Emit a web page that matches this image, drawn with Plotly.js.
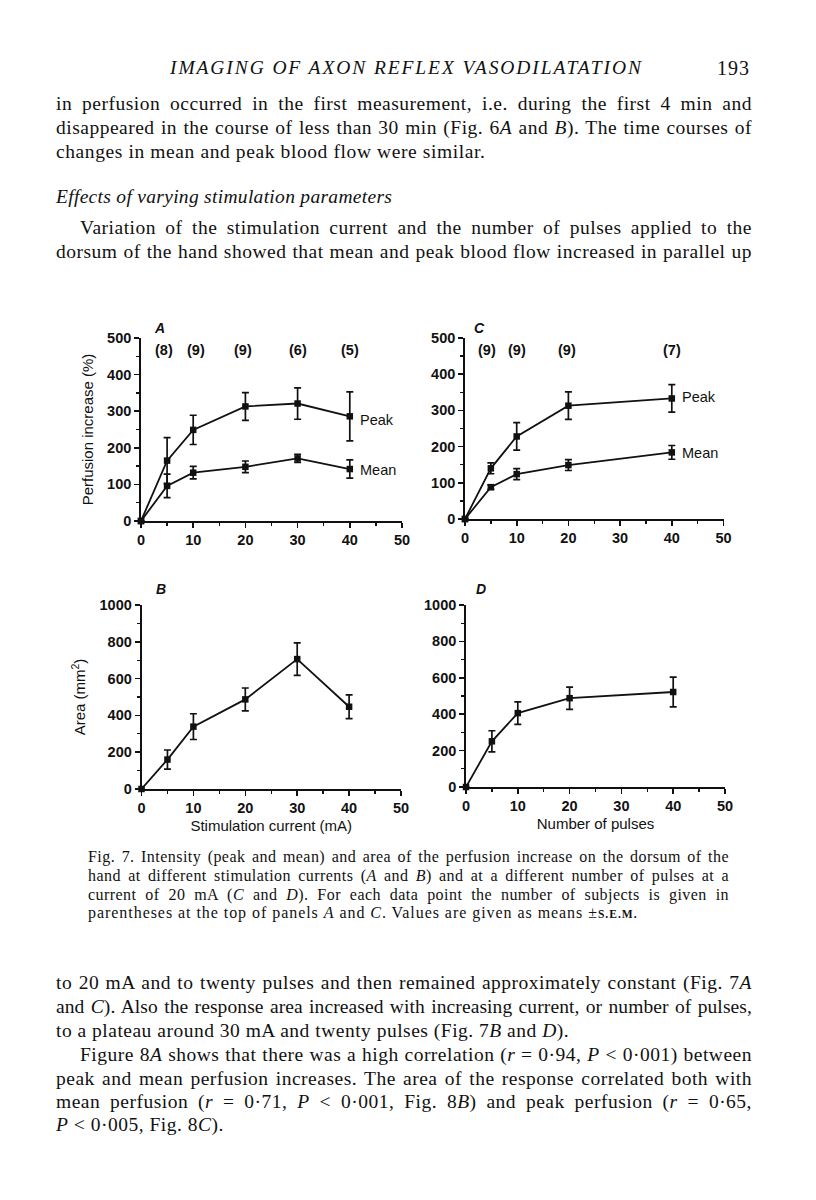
<!DOCTYPE html>
<html>
<head>
<meta charset="utf-8">
<script src="https://cdn.plot.ly/plotly-3.0.1.min.js"></script>
<style>
  html, body { margin: 0; padding: 0; background: #fff; }
  #page { position: relative; width: 816px; height: 1200px; overflow: hidden; background: #fff; }
  #chart { position: absolute; left: 0; top: 0; width: 816px; height: 1200px; }
  .ln { position: absolute; white-space: nowrap; font-family: "Liberation Serif", "DejaVu Serif", serif;
        color: #111; line-height: 24px; height: 24px; }
  .body { font-size: 19.5px; letter-spacing: 0.5px; left: 56px; width: 696px; text-align: justify; text-align-last: justify; }
  .ind { left: 80px; width: 672px; }
  .cap { font-size: 16px; letter-spacing: 0.45px; left: 88px; width: 641px; text-align: justify; text-align-last: justify; line-height: 19px; height: 19px; }
  .left { text-align: left; text-align-last: left; }
  i { font-style: italic; }
  .sc { font-size: 0.72em; letter-spacing: 1px; font-weight: bold; }
</style>
</head>
<body>
<div id="page">
  <div id="chart"></div>
  <div class="ln" style="left:170px; top:56px; font-size:19.5px; font-style:italic; letter-spacing:1.9px;">IMAGING OF AXON REFLEX VASODILATATION</div>
  <div class="ln" style="left:717px; top:56px; font-size:20px; letter-spacing:1px;">193</div>

  <div class="ln body" style="top:92px;">in perfusion occurred in the first measurement, i.e. during the first 4 min and</div>
  <div class="ln body" style="top:116px;">disappeared in the course of less than 30 min (Fig. 6<i>A</i> and <i>B</i>). The time courses of</div>
  <div class="ln body left" style="top:140px; letter-spacing:0.6px;">changes in mean and peak blood flow were similar.</div>

  <div class="ln body left" style="top:185px; font-style:italic; letter-spacing:0.3px;">Effects of varying stimulation parameters</div>
  <div class="ln body ind" style="top:216px;">Variation of the stimulation current and the number of pulses applied to the</div>
  <div class="ln body" style="top:240px;">dorsum of the hand showed that mean and peak blood flow increased in parallel up</div>

  <div class="ln cap" style="top:847px;">Fig. 7. Intensity (peak and mean) and area of the perfusion increase on the dorsum of the</div>
  <div class="ln cap" style="top:866px;">hand at different stimulation currents (<i>A</i> and <i>B</i>) and at a different number of pulses at a</div>
  <div class="ln cap" style="top:885px;">current of 20 mA (<i>C</i> and <i>D</i>). For each data point the number of subjects is given in</div>
  <div class="ln cap left" style="top:903px; letter-spacing:0.95px;">parentheses at the top of panels <i>A</i> and <i>C</i>. Values are given as means ±<span class="sc">S.E.M.</span></div>

  <div class="ln body" style="top:971px;">to 20 mA and to twenty pulses and then remained approximately constant (Fig. 7<i>A</i></div>
  <div class="ln body" style="top:995px; letter-spacing:0.1px;">and <i>C</i>). Also the response area increased with increasing current, or number of pulses,</div>
  <div class="ln body left" style="top:1019px;">to a plateau around 30 mA and twenty pulses (Fig. 7<i>B</i> and <i>D</i>).</div>
  <div class="ln body ind" style="top:1043px;">Figure 8<i>A</i> shows that there was a high correlation (<i>r</i> = 0·94, <i>P</i> &lt; 0·001) between</div>
  <div class="ln body" style="top:1067px;">peak and mean perfusion increases. The area of the response correlated both with</div>
  <div class="ln body" style="top:1090px;">mean perfusion (<i>r</i> = 0·71, <i>P</i> &lt; 0·001, Fig. 8<i>B</i>) and peak perfusion (<i>r</i> = 0·65,</div>
  <div class="ln body left" style="top:1113px;"><i>P</i> &lt; 0·005, Fig. 8<i>C</i>).</div>
</div>
<script>
// ---- data ----
const currentX = [0, 5, 10, 20, 30, 40];
const peakA    = [0, 165, 249, 313, 321, 286];
const peakAErr = [0, 63, 40, 38, 43, 67];
const meanA    = [0, 96, 132, 148, 171, 142];
const meanAErr = [0, 32, 17, 16, 11, 25];
const areaB    = [0, 160, 339, 487, 706, 447];
const areaBErr = [0, 52, 70, 62, 88, 65];

const pulsesX  = [0, 5, 10, 20, 40];
const peakC    = [0, 140, 228, 313, 333];
const peakCErr = [0, 15, 38, 38, 38];
const meanC    = [0, 88, 124, 149, 184];
const meanCErr = [0, 6, 15, 15, 19];
const areaD    = [0, 251, 406, 488, 522];
const areaDErr = [0, 58, 62, 61, 82];

const nA  = ['(8)', '(9)', '(9)', '(6)', '(5)'];
const nAx = [4.5, 10.5, 19.5, 30, 40];
const nC  = ['(9)', '(9)', '(9)', '(7)'];
const nCx = [4.3, 10, 19.7, 40];

// ---- styling ----
const SANS = 'Liberation Sans, Arial, Helvetica, sans-serif';
const W = 816, H = 1200;
function px(x) { return x / W; }
function py(y) { return 1 - y / H; }

function series(x, y, err, xa, ya, name) {
  return {
    type: 'scatter', mode: 'lines+markers', name: name, x: x, y: y,
    xaxis: xa, yaxis: ya, cliponaxis: false, showlegend: false,
    line: { color: '#111', width: 1.8 },
    marker: { symbol: 'square', size: 6.5, color: '#111' },
    error_y: { type: 'data', array: err, visible: true, color: '#111', thickness: 1.7, width: 3.5 }
  };
}

const traces = [
  series(currentX, peakA, peakAErr, 'x', 'y', 'Peak'),
  series(currentX, meanA, meanAErr, 'x', 'y', 'Mean'),
  series(pulsesX, peakC, peakCErr, 'x2', 'y2', 'Peak'),
  series(pulsesX, meanC, meanCErr, 'x2', 'y2', 'Mean'),
  series(currentX, areaB, areaBErr, 'x3', 'y3', 'Area'),
  series(pulsesX, areaD, areaDErr, 'x4', 'y4', 'Area')
];

const tickFont = { family: SANS, size: 14.5, color: '#111', weight: 'bold' };
const titleFont = { family: SANS, size: 15, color: '#111' };

function xax(dom, anchor, title) {
  const a = {
    domain: dom, anchor: anchor, range: [0, 50], dtick: 10, tick0: 0,
    showline: true, linecolor: '#111', linewidth: 1.8, showgrid: false, zeroline: false,
    ticks: 'outside', ticklen: 5, tickwidth: 1.6, tickcolor: '#111',
    minor: { dtick: 5, ticks: 'outside', ticklen: 3, tickwidth: 1.4, tickcolor: '#111', showgrid: false },
    tickfont: tickFont, fixedrange: true
  };
  if (title) a.title = { text: title, font: titleFont, standoff: 5 };
  return a;
}
function yax(dom, anchor, range, dtick, minor, title) {
  const a = {
    domain: dom, anchor: anchor, range: range, dtick: dtick, tick0: 0,
    showline: true, linecolor: '#111', linewidth: 1.8, showgrid: false, zeroline: false,
    ticks: 'outside', ticklen: 5, tickwidth: 1.6, tickcolor: '#111',
    minor: { dtick: minor, ticks: 'outside', ticklen: 3, tickwidth: 1.4, tickcolor: '#111', showgrid: false },
    tickfont: tickFont, fixedrange: true
  };
  if (title) a.title = { text: title, font: titleFont, standoff: 10 };
  return a;
}

const annotations = [];
function txt(x, y, xr, yr, t, opts) {
  annotations.push(Object.assign({ x: x, y: y, xref: xr, yref: yr, text: t, showarrow: false,
    font: { family: SANS, size: 14.5, color: '#111', weight: 'bold' } }, opts || {}));
}
nA.forEach((t, i) => txt(nAx[i], 467, 'x', 'y', t));
nC.forEach((t, i) => txt(nCx[i], 467, 'x2', 'y2', t));
const lblFont = { family: SANS, size: 14.5, color: '#111' };
txt(41.6, peakA[5] - 10, 'x', 'y', 'Peak', { xanchor: 'left', font: lblFont });
txt(41.6, meanA[5] - 3, 'x', 'y', 'Mean', { xanchor: 'left', font: lblFont });
txt(41.6, peakC[4] + 5, 'x2', 'y2', 'Peak', { xanchor: 'left', font: lblFont });
txt(41.6, meanC[4] - 3, 'x2', 'y2', 'Mean', { xanchor: 'left', font: lblFont });
const letterFont = { family: SANS, size: 14, color: '#111', weight: 'bold' };
txt(px(152), py(318), 'paper', 'paper', '<i>A</i>', { font: letterFont });
txt(px(479), py(318), 'paper', 'paper', '<i>C</i>', { font: letterFont });
txt(px(154), py(589), 'paper', 'paper', '<i>B</i>', { font: letterFont });
txt(px(481), py(589), 'paper', 'paper', '<i>D</i>', { font: letterFont });

const layout = {
  width: W, height: H, margin: { l: 0, r: 0, t: 0, b: 0 },
  paper_bgcolor: 'rgba(0,0,0,0)', plot_bgcolor: 'rgba(0,0,0,0)', showlegend: false,
  xaxis:  xax([px(141), px(402)], 'y'),
  yaxis:  yax([py(521), py(338)], 'x', [0, 500], 100, 50, 'Perfusion increase (%)'),
  xaxis2: xax([px(465), px(723.5)], 'y2'),
  yaxis2: yax([py(519), py(338)], 'x2', [0, 500], 100, 50),
  xaxis3: xax([px(141.5), px(401)], 'y3', 'Stimulation current (mA)'),
  yaxis3: yax([py(789), py(605)], 'x3', [0, 1000], 200, 100, 'Area (mm<sup>2</sup>)'),
  xaxis4: xax([px(466), px(725)], 'y4', 'Number of pulses'),
  yaxis4: yax([py(787), py(605)], 'x4', [0, 1000], 200, 100),
  annotations: annotations
};

Plotly.newPlot('chart', traces, layout, { staticPlot: true, displayModeBar: false });
</script>
</body>
</html>
